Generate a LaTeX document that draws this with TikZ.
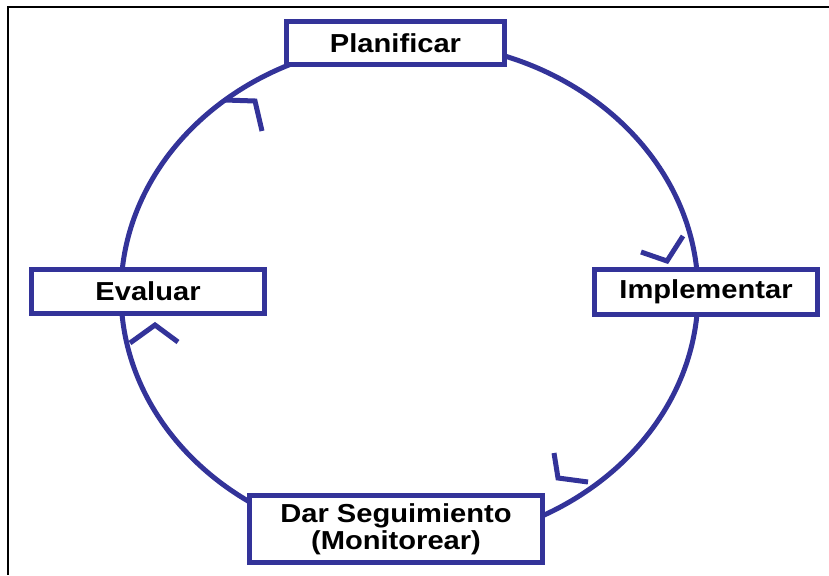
\documentclass[tikz,border=0pt]{standalone}
\usepackage{fontspec}
\usepackage{tikz}
\usetikzlibrary{calc}
\newfontfamily\etiq{Liberation Sans}[FakeStretch=1.12]
\definecolor{ciclo}{HTML}{333399}
\tikzset{
	etapa/.style={draw=ciclo,line width=5pt,fill=white,rectangle,inner sep=0pt,align=center,
		font=\etiq\bfseries\fontsize{26}{27}\selectfont},
	giro/.style={draw=ciclo,line width=5pt}
}

\begin{document}
\begin{tikzpicture}[x=1pt,y=-1pt]
	\def\cx{409.5};
	\def\cy{293};
	\useasboundingbox (0,0) rectangle (829,575);
	
	%Marco
	\draw[line width=2pt] (829,7) -- (8,7) -- (8,575);
	
	%Ciclo
	\draw[giro] (\cx,\cy) ellipse [x radius=288.5,y radius=251];
	
	%Marcas de sentido
	\draw[giro] (225,100) -- (255,101) -- (262,131);
	\draw[giro] (641,252) -- (667,261) -- (683,236);
	\draw[giro] (554,453) -- (558,478) -- (588,482);
	\draw[giro] (130,343) -- (155,325) -- (178,342);
	
	%Etapas
	\node[etapa,minimum width=218pt,minimum height=43pt] (plan) at (395.5,43) {Planificar};
	\node[etapa,minimum width=223pt,minimum height=45pt] (impl) at (706,292) {Implementar};
	\node[etapa,minimum width=293pt,minimum height=67pt] (segu) at (396,529) {Dar Seguimiento\\(Monitorear)};
	\node[etapa,minimum width=233pt,minimum height=44pt] (eval) at (148,291.5) {Evaluar};
	
\end{tikzpicture}
\end{document}
